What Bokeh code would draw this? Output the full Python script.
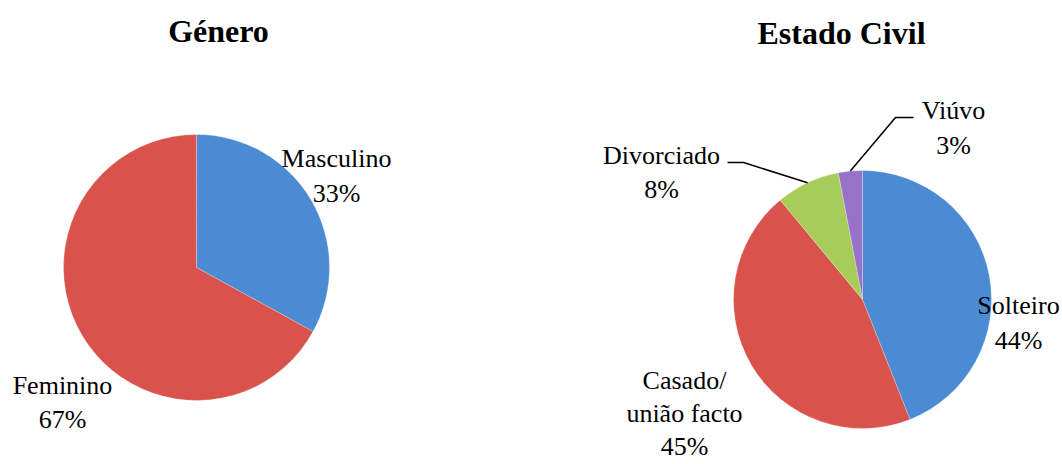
import math
from bokeh.plotting import figure
from bokeh.models import Range1d, ColumnDataSource
from bokeh.core.properties import value
from bokeh.embed import file_html
from bokeh.resources import INLINE

# ---- data ----
genero_labels = ["Masculino", "Feminino"]
genero_values = [33, 67]
genero_colors = ["#4A8BD4", "#D9534C"]

civil_labels = ["Solteiro", "Casado/\nunião facto", "Divorciado", "Viúvo"]
civil_values = [44, 45, 8, 3]
civil_colors = ["#4A8BD4", "#D9534C", "#A8CC5A", "#9673C8"]

W, H = 1062, 464
FONT = "Liberation Serif"

p = figure(width=W, height=H, output_backend="svg", toolbar_location=None,
           x_range=Range1d(0, W), y_range=Range1d(0, H),
           min_border=0, border_fill_color="white", background_fill_color="white")
p.axis.visible = False
p.grid.visible = False
p.outline_line_color = None


def Y(ref_y):
    return H - ref_y


def pie(cx, cy, r, values, colors):
    total = float(sum(values))
    cum = 0.0
    starts, ends = [], []
    for v in values:
        a0 = math.pi / 2 - 2 * math.pi * (cum + v) / total
        a1 = math.pi / 2 - 2 * math.pi * cum / total
        starts.append(a0)
        ends.append(a1)
        cum += v
    src = ColumnDataSource(dict(x=[cx] * len(values), y=[Y(cy)] * len(values),
                                s=starts, e=ends, c=colors))
    p.wedge(x="x", y="y", radius=r, start_angle="s", end_angle="e",
            fill_color="c", line_color="white", line_alpha=0.25, line_width=1,
            source=src)


def mid_point(cx, cy, r, values, idx):
    total = float(sum(values))
    cum = sum(values[:idx]) + values[idx] / 2.0
    a = math.pi / 2 - 2 * math.pi * cum / total
    return cx + r * math.cos(a), Y(cy) + r * math.sin(a)


# left pie
pie(196, 267, 133, genero_values, genero_colors)
# right pie
pie(862, 299, 129, civil_values, civil_colors)

# titles
p.text(x=[218, 841], y=[Y(30), Y(32)], text=["Género", "Estado Civil"],
       text_font=value(FONT), text_font_size="32px", text_font_style="bold",
       text_align="center", text_baseline="middle", text_color="black")


# labels
def lab(x, y, name, v, lh=1.2):
    p.text(x=[x], y=[Y(y)], text=[f"{name}\n{v}%"], text_font=value(FONT),
           text_font_size="26px", text_align="center", text_baseline="middle",
           text_line_height=lh, text_color="black")


lab(336, 175.5, genero_labels[0], genero_values[0])
lab(62, 402, genero_labels[1], genero_values[1])
lab(1018, 322.5, civil_labels[0], civil_values[0])
lab(684, 413, civil_labels[1], civil_values[1], lh=1.15)
lab(661, 172, civil_labels[2], civil_values[2])
lab(953, 127.5, civil_labels[3], civil_values[3])

# leader lines
mx, my = mid_point(862, 299, 129, civil_values, 2)
p.line(x=[727, 743, mx], y=[Y(162), Y(162), my], line_color="black", line_width=1.5)
mx, my = mid_point(862, 299, 129, civil_values, 3)
p.line(x=[913, 895, mx], y=[Y(117), Y(117), my], line_color="black", line_width=1.5)

open("out.html", "w").write(file_html(p, INLINE))
